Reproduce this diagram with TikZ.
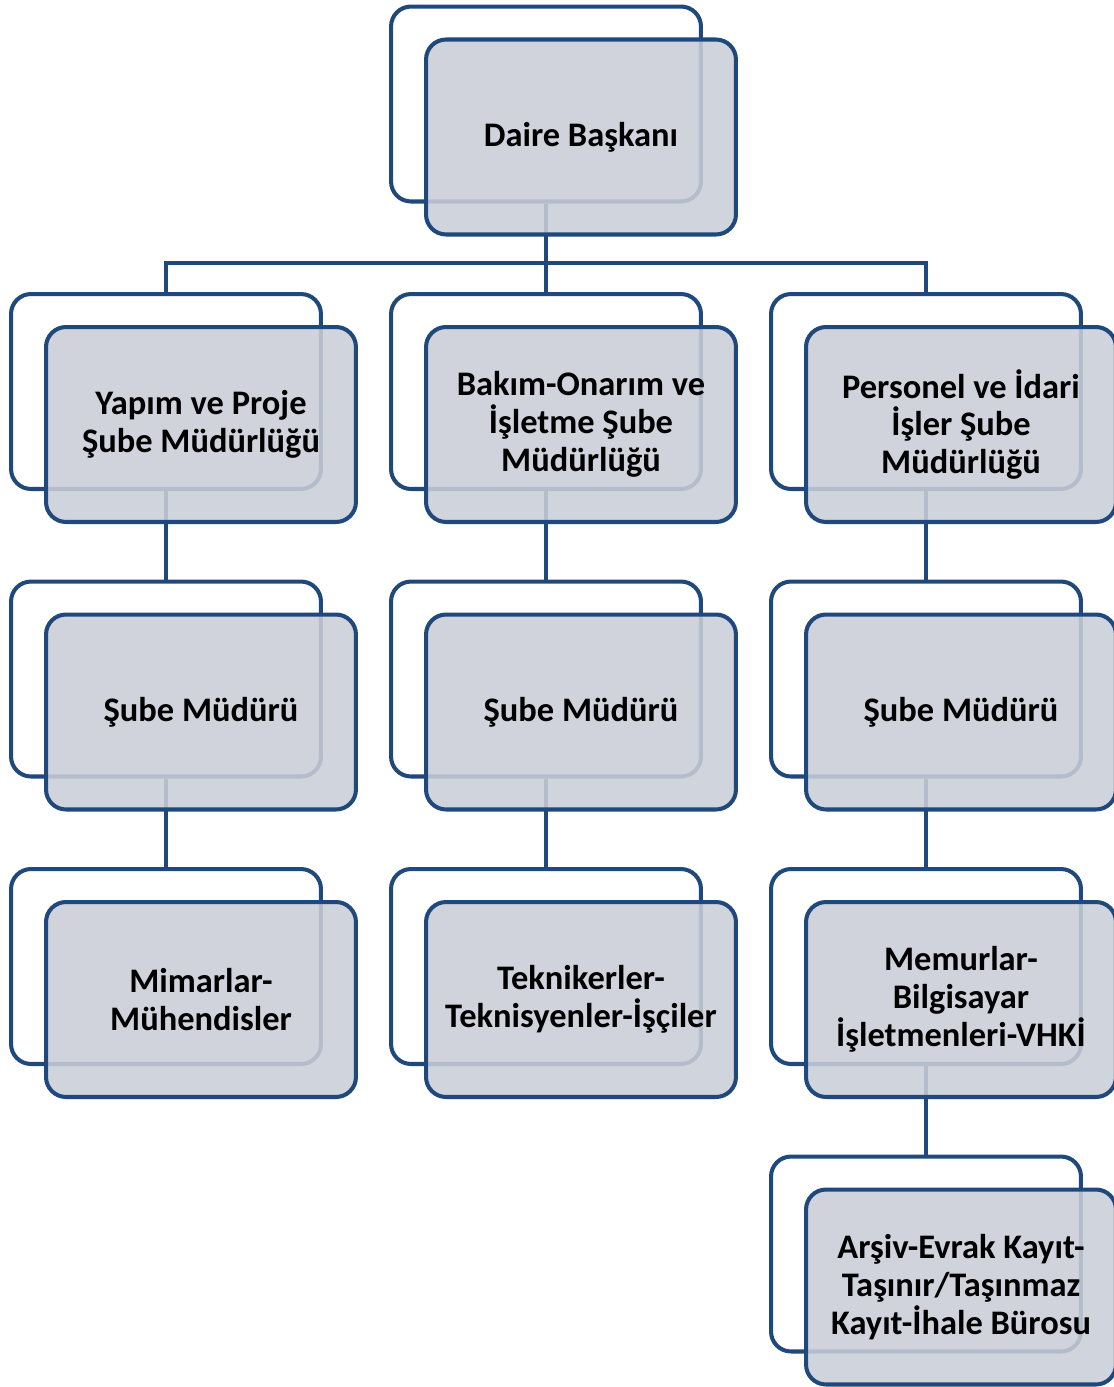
\documentclass[tikz,border=0pt]{standalone}
\usepackage{fontspec}
\setmainfont{Carlito}
\usetikzlibrary{positioning}
\definecolor{kutucizgi}{RGB}{31,73,125}
\definecolor{kutudolgu}{RGB}{202,206,215}

\begin{document}
\begin{tikzpicture}[
    x=0.02cm, y=-0.02cm,
    node distance=0.66cm and 0.7cm, on grid,
    arka/.style={draw=kutucizgi, fill=white, rectangle, rounded corners=0.4cm, minimum width=6.2cm, minimum height=3.9cm, inner sep=0pt, line width=2.3pt},
    on/.style={arka, fill=kutudolgu, fill opacity=0.88, text opacity=1, align=center, font=\fontsize{19.6}{21.6}\selectfont\bfseries},
    baglanti/.style={draw=kutucizgi, line width=2.3pt}
]
    \useasboundingbox (0,0) rectangle (1113,1387);

    % Arka kutular
    \node[arka] (daireA) at (546,104) {};
    \node[arka] (yapimA) at (166,391.5) {};
    \node[arka] (bakimA) at (546,391.5) {};
    \node[arka] (personelA) at (926,391.5) {};
    \node[arka] (sube1A) at (166,679) {};
    \node[arka] (sube2A) at (546,679) {};
    \node[arka] (sube3A) at (926,679) {};
    \node[arka] (mimarA) at (166,966.5) {};
    \node[arka] (teknikA) at (546,966.5) {};
    \node[arka] (memurA) at (926,966.5) {};
    \node[arka] (arsivA) at (926,1254) {};

    % Bağlantılar
    \coordinate (bus) at (546,263);
    \draw[baglanti] (daireA) -- (bakimA);
    \draw[baglanti] (yapimA.north) |- (bus) -| (personelA.north);
    \draw[baglanti] (yapimA) -- (sube1A);
    \draw[baglanti] (sube1A) -- (mimarA);
    \draw[baglanti] (bakimA) -- (sube2A);
    \draw[baglanti] (sube2A) -- (teknikA);
    \draw[baglanti] (personelA) -- (sube3A);
    \draw[baglanti] (sube3A) -- (memurA);
    \draw[baglanti] (memurA) -- (arsivA);

    % Ön kutular
    \node[on, below right=of daireA] (daire) {Daire Başkanı};
    \node[on, below right=of yapimA] (yapim) {Yapım ve Proje\\Şube Müdürlüğü};
    \node[on, below right=of bakimA] (bakim) {Bakım-Onarım ve\\İşletme Şube\\Müdürlüğü};
    \node[on, below right=of personelA] (personel) {Personel ve İdari\\İşler Şube\\Müdürlüğü};
    \node[on, below right=of sube1A] (sube1) {Şube Müdürü};
    \node[on, below right=of sube2A] (sube2) {Şube Müdürü};
    \node[on, below right=of sube3A] (sube3) {Şube Müdürü};
    \node[on, below right=of mimarA] (mimar) {Mimarlar-\\Mühendisler};
    \node[on, below right=of teknikA] (teknik) {Teknikerler-\\Teknisyenler-İşçiler};
    \node[on, below right=of memurA] (memur) {Memurlar-\\Bilgisayar\\İşletmenleri-VHKİ};
    \node[on, below right=of arsivA] (arsiv) {Arşiv-Evrak Kayıt-\\Taşınır/Taşınmaz\\Kayıt-İhale Bürosu};
\end{tikzpicture}
\end{document}
